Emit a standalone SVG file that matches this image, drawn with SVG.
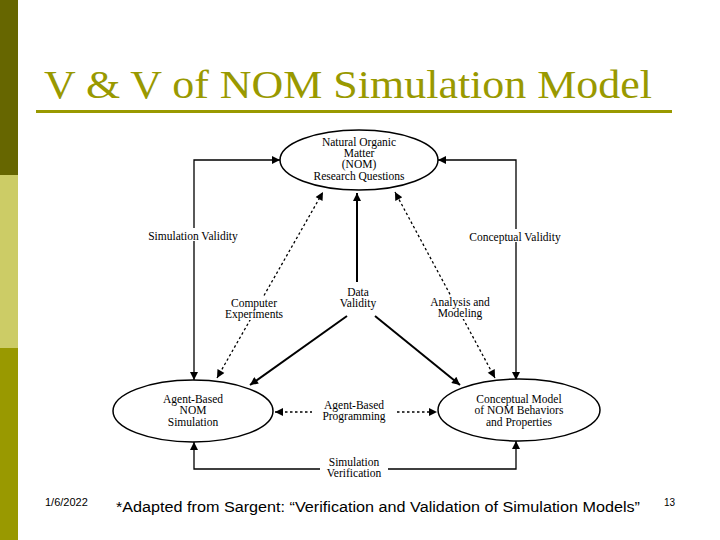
<svg xmlns="http://www.w3.org/2000/svg" width="720" height="540" viewBox="0 0 720 540">
<style>
.n{fill:#fff;stroke:#000;stroke-width:1.5}
.t{font-family:"Liberation Serif",serif;font-size:11.5px;text-anchor:middle;fill:#000}
.s{font-family:"Liberation Sans",sans-serif;fill:#000}
.l{fill:none;stroke:#000;stroke-width:1.3}
.d{fill:none;stroke:#000;stroke-width:1.3;stroke-dasharray:2.5,2.5}
.th{fill:none;stroke:#000;stroke-width:2}
</style>
<defs>
<marker id="a" viewBox="0 0 10 10" refX="10" refY="5" markerWidth="12" markerHeight="8" markerUnits="userSpaceOnUse" orient="auto-start-reverse"><path d="M0,0L10,5L0,10z" fill="#000"/></marker>
</defs>
<rect width="720" height="540" fill="#fff"/>
<rect x="0" y="0" width="18" height="175" fill="#666600"/>
<rect x="0" y="175" width="18" height="173" fill="#cccc66"/>
<rect x="0" y="348" width="18" height="192" fill="#999900"/>
<text x="44" y="98" style="font-family:'Liberation Serif',serif;font-size:40px" fill="#999900" textLength="608" lengthAdjust="spacingAndGlyphs">V &amp; V of NOM Simulation Model</text>
<rect x="36" y="110" width="636" height="3" fill="#999900"/>
<g id="connectors">
<path class="l" d="M194,380V160H280" marker-start="url(#a)" marker-end="url(#a)"/>
<path class="l" d="M516,380V160H438" marker-start="url(#a)" marker-end="url(#a)"/>
<path class="l" d="M194,442V469H516V441" marker-start="url(#a)" marker-end="url(#a)"/>
<path class="th" d="M357,282V193" marker-end="url(#a)"/>
<path class="th" d="M347,316L250,385" marker-end="url(#a)"/>
<path class="th" d="M375,316L460,385" marker-end="url(#a)"/>
<path class="d" d="M217,378L323,192" marker-start="url(#a)" marker-end="url(#a)"/>
<path class="d" d="M495,378L395,192" marker-start="url(#a)" marker-end="url(#a)"/>
<path class="d" d="M275,412H312" marker-start="url(#a)"/>
<path class="d" d="M397,412H437" marker-end="url(#a)"/>
</g>
<g id="n1"><ellipse class="n" cx="359" cy="160" rx="79" ry="30"/>
<text class="t" x="359" y="146">Natural Organic</text><text class="t" x="359" y="157">Matter</text><text class="t" x="359" y="168">(NOM)</text><text class="t" x="359" y="180">Research Questions</text></g>
<g id="n2"><ellipse class="n" cx="193" cy="411" rx="80" ry="31"/>
<text class="t" x="193" y="403">Agent-Based</text><text class="t" x="193" y="414">NOM</text><text class="t" x="193" y="426">Simulation</text></g>
<g id="n3"><ellipse class="n" cx="519" cy="410" rx="81" ry="31"/>
<text class="t" x="519" y="403">Conceptual Model</text><text class="t" x="519" y="414">of NOM Behaviors</text><text class="t" x="519" y="426">and Properties</text></g>
<g id="labels">
<rect x="138" y="228" width="110" height="13" fill="#fff"/>
<text class="t" x="193" y="240">Simulation Validity</text>
<rect x="458" y="229" width="114" height="13" fill="#fff"/>
<text class="t" x="515" y="241">Conceptual Validity</text>
<rect x="218" y="296" width="72" height="24" fill="#fff"/>
<text class="t" x="254" y="307">Computer</text><text class="t" x="254" y="318">Experiments</text>
<rect x="338" y="284" width="40" height="26" fill="#fff"/>
<text class="t" x="358" y="296">Data</text><text class="t" x="358" y="307">Validity</text>
<rect x="422" y="295" width="76" height="24" fill="#fff"/>
<text class="t" x="460" y="306">Analysis and</text><text class="t" x="460" y="317">Modeling</text>
<text class="t" x="354" y="409">Agent-Based</text><text class="t" x="354" y="420">Programming</text>
<rect x="320" y="457" width="68" height="22" fill="#fff"/>
<text class="t" x="354" y="466">Simulation</text><text class="t" x="354" y="477">Verification</text>
</g>
<text class="s" x="45" y="506" font-size="11">1/6/2022</text>
<text class="s" x="116" y="512" font-size="14" textLength="524" lengthAdjust="spacingAndGlyphs">*Adapted from Sargent: “Verification and Validation of Simulation Models”</text>
<text class="s" x="664" y="506" font-size="10">13</text>
</svg>
